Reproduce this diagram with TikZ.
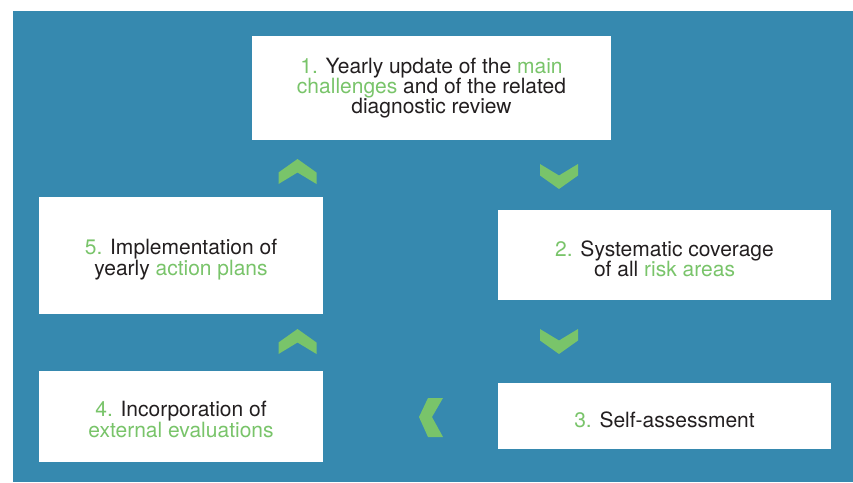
\documentclass[tikz,border=0pt]{standalone}
\usepackage{fontspec}
\setmainfont{TeX Gyre Heros}
\definecolor{bgblue}{HTML}{3689AF}
\definecolor{accent}{HTML}{79C46A}
\definecolor{txt}{HTML}{231F20}
\newcommand\gr[1]{\textcolor{accent}{#1}}
\begin{document}
\begin{tikzpicture}[x=1pt,y=-1pt,
  stepbox/.style={fill=white,inner sep=0pt},
  steptext/.style={inner sep=0pt,text=txt,align=center,
    font=\fontsize{21}{20.3}\selectfont},
  chev/.pic={\fill[accent] (-19,1) -- (0,-12.5) -- (19,1) -- (19,12.5) -- (0,1) -- (-19,12.5) -- cycle;}]
\useasboundingbox (0,0) rectangle (853,482);
\fill[bgblue] (13,11) rectangle (853,482);
\node[stepbox,minimum width=359pt,minimum height=104pt] (b1) at (431.5,88) {};
\node[stepbox,minimum width=333pt,minimum height=90pt] (b2) at (664.5,255) {};
\node[stepbox,minimum width=333pt,minimum height=66pt] (b3) at (664.5,416) {};
\node[stepbox,minimum width=284pt,minimum height=91pt] (b4) at (181,416.5) {};
\node[stepbox,minimum width=284pt,minimum height=117pt] (b5) at (181,255.5) {};
\node[steptext] (t1) at (b1.center)
  {\gr{1.} Yearly update of the \gr{main}\\\gr{challenges} and of the related\\diagnostic review};
\node[steptext] (t2) at ([yshift=-3.5pt]b2.center)
  {\gr{2.} Systematic coverage\\of all \gr{risk areas}};
\node[steptext] (t3) at ([yshift=-3.5pt]b3.center)
  {\gr{3.} Self-assessment};
\node[steptext] (t4) at ([yshift=-3pt]b4.center)
  {\gr{4.} Incorporation of\\\gr{external evaluations}};
\node[steptext] (t5) at ([yshift=-4pt]b5.center)
  {\gr{5.} Implementation of\\yearly \gr{action plans}};
\pic at (297.5,171.5) {chev};
\pic[rotate=180] at (559,176.5) {chev};
\pic[rotate=180] at (559,341.5) {chev};
\pic at (297.5,341.5) {chev};
\fill[accent] (419,417) -- (428,398) -- (443,398) -- (432,417) -- (443,437) -- (428,437) -- cycle;
\end{tikzpicture}
\end{document}
